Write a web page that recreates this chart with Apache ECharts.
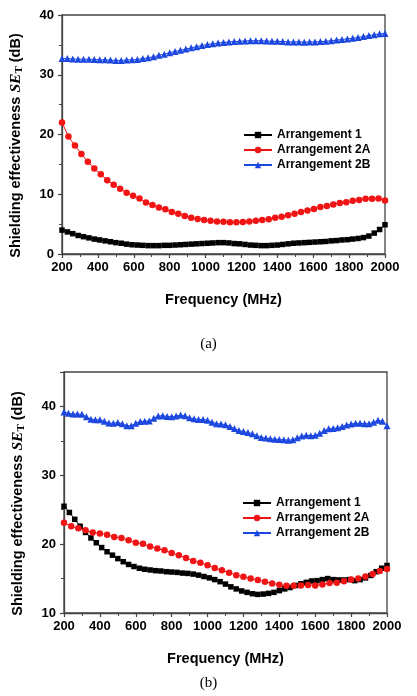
<!DOCTYPE html>
<html lang="en">
<head>
    <meta charset="UTF-8">
    <title>Shielding effectiveness</title>
    <style>
        *{
            margin: 0;
            padding: 0;
        }
        #c{
            width: 417px;
            height: 696px;
            background-color: #fff;
        }
    </style>
    <script src="https://cdn.jsdelivr.net/npm/echarts@6/dist/echarts.min.js"></script>
</head>
<body>
    <div id="c"></div>
    <script>
        // series names
        var names = ['Arrangement 1', 'Arrangement 2A', 'Arrangement 2B']
        var xTicks = [200, 400, 600, 800, 1000, 1200, 1400, 1600, 1800, 2000]

        // (a) values, 200..2000 MHz evenly spaced
        var a1 = [4.0, 3.7, 3.4, 3.1, 2.9, 2.7, 2.5, 2.35, 2.2, 2.05,
            1.9, 1.8, 1.65, 1.55, 1.5, 1.45, 1.4, 1.4, 1.4, 1.45,
            1.45, 1.5, 1.55, 1.6, 1.65, 1.7, 1.75, 1.8, 1.85, 1.9,
            1.9, 1.85, 1.75, 1.7, 1.6, 1.5, 1.45, 1.4, 1.4, 1.45,
            1.5, 1.6, 1.7, 1.8, 1.85, 1.9, 1.95, 2.0, 2.05, 2.1,
            2.2, 2.25, 2.35, 2.4, 2.5, 2.6, 2.75, 3.0, 3.5, 4.1, 4.9]
        var a2A = [22.0, 19.65, 18.15, 16.75, 15.45, 14.3, 13.35, 12.35, 11.6, 10.9,
            10.25, 9.75, 9.3, 8.6, 8.2, 7.8, 7.5, 7.05, 6.75, 6.35,
            6.05, 5.85, 5.7, 5.55, 5.45, 5.4, 5.3, 5.3, 5.35, 5.45,
            5.55, 5.7, 5.8, 6.05, 6.25, 6.5, 6.75, 7.05, 7.3, 7.55,
            7.85, 8.05, 8.3, 8.55, 8.65, 8.9, 9.05, 9.25, 9.25, 9.3, 8.95]
        var a2B = [32.7, 32.7, 32.65, 32.6, 32.6, 32.6, 32.55, 32.5, 32.5, 32.45,
            32.4, 32.4, 32.45, 32.5, 32.55, 32.7, 32.85, 33.0, 33.25, 33.45,
            33.7, 33.9, 34.1, 34.3, 34.5, 34.7, 34.9, 35.05, 35.2, 35.3,
            35.4, 35.5, 35.55, 35.6, 35.65, 35.7, 35.7, 35.7, 35.65, 35.6,
            35.6, 35.55, 35.5, 35.5, 35.5, 35.45, 35.5, 35.5, 35.55, 35.6,
            35.7, 35.8, 35.9, 36.0, 36.1, 36.25, 36.4, 36.55, 36.7, 36.85, 36.9]

        // (b)
        var b1 = [25.5, 24.6, 23.6, 22.6, 21.7, 20.9, 20.2, 19.5, 18.9, 18.4,
            17.9, 17.45, 17.05, 16.75, 16.5, 16.35, 16.25, 16.15, 16.1, 16.0,
            15.95, 15.9, 15.8, 15.75, 15.65, 15.5, 15.3, 15.1, 14.85, 14.55,
            14.2, 13.8, 13.5, 13.2, 13.0, 12.8, 12.7, 12.75, 12.85, 13.0,
            13.25, 13.5, 13.7, 14.0, 14.25, 14.45, 14.65, 14.7, 14.85, 15.0,
            14.85, 14.8, 14.8, 14.85, 14.7, 14.85, 15.1, 15.45, 16.0, 16.5, 16.9]
        var b2A = [23.1, 22.6, 22.3, 22.0, 21.7, 21.55, 21.35, 21.05, 20.9, 20.55,
            20.2, 20.05, 19.65, 19.35, 19.1, 18.7, 18.4, 18.0, 17.55, 17.3,
            16.95, 16.55, 16.2, 15.85, 15.5, 15.25, 15.0, 14.8, 14.55, 14.3,
            14.1, 13.95, 13.95, 14.0, 14.05, 14.0, 14.15, 14.35, 14.4, 14.6,
            14.85, 15.0, 15.3, 15.65, 16.1, 16.4]
        var b2B = [39.2, 39.0, 38.9, 38.9, 38.85, 38.5, 38.15, 38.05, 38.05, 37.85,
            37.6, 37.55, 37.65, 37.5, 37.2, 37.2, 37.55, 37.8, 37.85, 37.9,
            38.3, 38.6, 38.65, 38.55, 38.5, 38.6, 38.75, 38.65, 38.35, 38.2,
            38.1, 38.1, 38.0, 37.7, 37.5, 37.45, 37.35, 37.1, 36.8, 36.5,
            36.35, 36.2, 36.05, 35.75, 35.5, 35.4, 35.3, 35.25, 35.2, 35.15,
            35.1, 35.15, 35.45, 35.7, 35.8, 35.75, 35.8, 36.1, 36.5, 36.75,
            36.8, 36.9, 37.1, 37.3, 37.45, 37.55, 37.55, 37.5, 37.5, 37.7,
            38.0, 37.85, 37.2]

        var colors = ['#000000', '#f01414', '#1d48e0']
        var symbols = ['rect', 'circle', 'triangle']
        var sizes = [5.5, 6.5, 7]
        var bold = 'Liberation Sans'

        // pair each value with its frequency, sweep 200..2000 MHz
        function pairs(vals){
            var out = []
            for(var i=0;i<vals.length;i++){
                out.push([200 + 1800*i/(vals.length-1), vals[i]])
            }
            return out
        }

        function xAx(idx){
            return {
                type:'value', gridIndex:idx, min:200, max:2000, interval:200,
                name:'Frequency (MHz)', nameLocation:'middle', nameGap:38,
                nameTextStyle:{fontFamily:bold, fontWeight:'bold', fontSize:14.5, color:'#000'},
                axisLine:{lineStyle:{color:'#444', width:1.3}},
                axisTick:{inside:false, length:4, lineStyle:{color:'#444', width:1.2}},
                minorTick:{show:true, splitNumber:2, length:3, lineStyle:{color:'#444', width:1}},
                axisLabel:{fontFamily:bold, fontWeight:'bold', fontSize:13, color:'#000', margin:7,
                    formatter:function(v){ return xTicks.indexOf(v) >= 0 ? String(v) : '' }},
                splitLine:{show:false}
            }
        }
        function yAx(idx, min, max){
            return {
                type:'value', gridIndex:idx, min:min, max:max, interval:10,
                name:'Shielding effectiveness {i|SE}{s|T} (dB)',
                nameLocation:'middle', nameGap:37, nameRotate:90,
                nameTextStyle:{fontFamily:bold, fontWeight:'bold', fontSize:14.5, color:'#000',
                    padding:[0, 22, 0, 0],
                    rich:{
                        i:{fontFamily:'Liberation Serif', fontStyle:'italic', fontSize:15.5, color:'#000'},
                        s:{fontFamily:'Liberation Serif', fontSize:11, color:'#000', padding:[7, 0, 0, 0]}
                    }},
                axisLine:{lineStyle:{color:'#444', width:1.3}},
                axisTick:{inside:false, length:4, lineStyle:{color:'#444', width:1.2}},
                minorTick:{show:true, splitNumber:2, length:3, lineStyle:{color:'#444', width:1}},
                axisLabel:{fontFamily:bold, fontWeight:'bold', fontSize:13, color:'#000', margin:8, showMaxLabel: max % 10 === 0},
                splitLine:{show:false}
            }
        }

        var sets = [[a1, a2A, a2B], [b1, b2A, b2B]]
        var series = []
        for(var g=0;g<2;g++){
            for(var k=0;k<3;k++){
                series.push({
                    name:names[k], type:'line',
                    xAxisIndex:g, yAxisIndex:g,
                    data:pairs(sets[g][k]),
                    symbol:symbols[k], symbolSize:sizes[k],
                    color:colors[k],
                    lineStyle:{width:1, color:colors[k]},
                    itemStyle:{color:colors[k]}
                })
            }
        }

        var myChart = echarts.init(document.getElementById('c'))
        var option = {
            animation:false,
            backgroundColor:'#fff',
            grid:[
                {left:62, right:32, top:15, bottom:442, show:true, borderColor:'#444', borderWidth:1.3},
                {left:64, right:30, top:372, bottom:83, show:true, borderColor:'#444', borderWidth:1.3}
            ],
            xAxis:[xAx(0), xAx(1)],
            yAxis:[yAx(0, 0, 40), yAx(1, 10, 45)],
            legend:[
                {data:names, orient:'vertical', left:238, top:124, itemWidth:28, itemHeight:8, itemGap:3,
                    textStyle:{fontFamily:bold, fontWeight:'bold', fontSize:12, color:'#000'}},
                {data:names, orient:'vertical', left:237, top:492, itemWidth:28, itemHeight:8, itemGap:3,
                    textStyle:{fontFamily:bold, fontWeight:'bold', fontSize:12, color:'#000'}}
            ],
            title:[
                {text:'(a)', left:'center', top:332, textStyle:{fontFamily:'Liberation Serif', fontWeight:'normal', fontSize:15, color:'#000'}},
                {text:'(b)', left:'center', top:671, textStyle:{fontFamily:'Liberation Serif', fontWeight:'normal', fontSize:15, color:'#000'}}
            ],
            series:series
        }
        myChart.setOption(option)
    </script>
</body>
</html>
